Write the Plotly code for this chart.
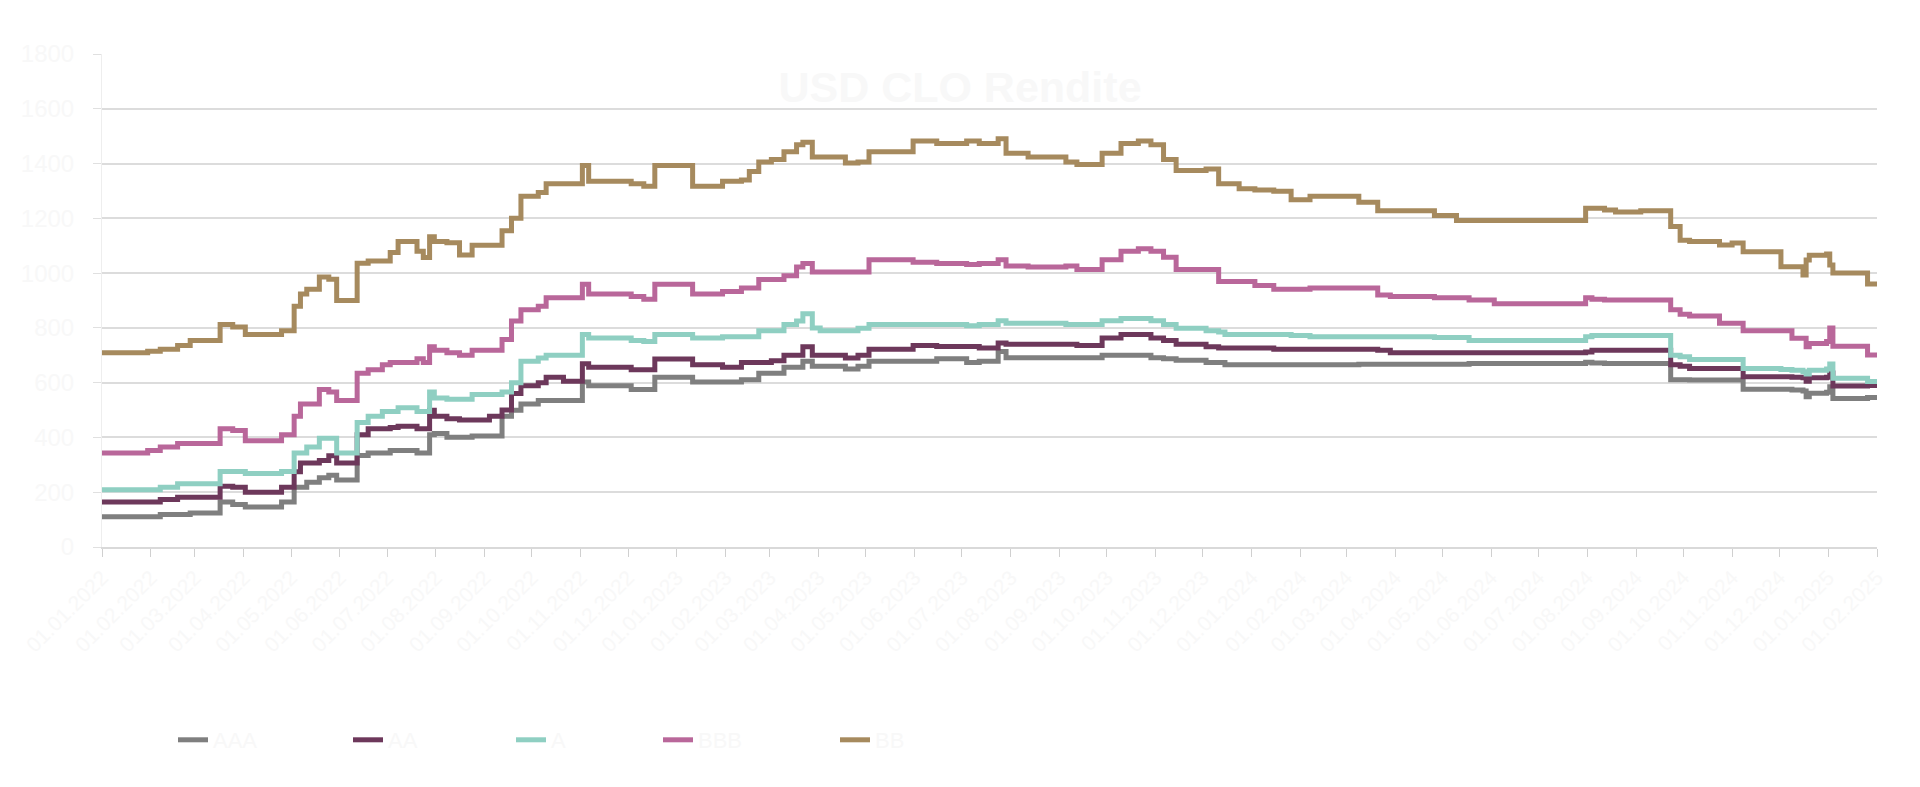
import plotly.graph_objects as go

dates = [
    "2022-01-01", "2022-01-30", "2022-02-07", "2022-02-18", "2022-02-26", "2022-03-17", "2022-03-25", "2022-04-02",
    "2022-04-25", "2022-05-03", "2022-05-07", "2022-05-11", "2022-05-19", "2022-05-25", "2022-05-30", "2022-06-12",
    "2022-06-19", "2022-06-28", "2022-07-03", "2022-07-08", "2022-07-20", "2022-07-24", "2022-07-28", "2022-07-31",
    "2022-08-08", "2022-08-16", "2022-08-24", "2022-09-04", "2022-09-12", "2022-09-18", "2022-09-24", "2022-10-05",
    "2022-10-10", "2022-10-21", "2022-11-02", "2022-11-06", "2022-12-03", "2022-12-11", "2022-12-18", "2023-01-11",
    "2023-01-30", "2023-02-11", "2023-02-16", "2023-02-22", "2023-03-02", "2023-03-10", "2023-03-18", "2023-03-22",
    "2023-03-28", "2023-04-02", "2023-04-18", "2023-04-26", "2023-05-03", "2023-05-31", "2023-06-15", "2023-07-04",
    "2023-07-12", "2023-07-24", "2023-07-29", "2023-08-12", "2023-09-05", "2023-09-12", "2023-09-28", "2023-10-10",
    "2023-10-21", "2023-10-29", "2023-11-06", "2023-11-14", "2023-12-03", "2023-12-11", "2023-12-15", "2023-12-24",
    "2024-01-03", "2024-01-15", "2024-01-26", "2024-02-07", "2024-03-09", "2024-03-21", "2024-03-29", "2024-04-26",
    "2024-05-10", "2024-05-18", "2024-06-03", "2024-07-31", "2024-08-04", "2024-08-12", "2024-08-19", "2024-09-04",
    "2024-09-23", "2024-09-29", "2024-10-05", "2024-10-24", "2024-11-01", "2024-11-08", "2024-12-02", "2024-12-09",
    "2024-12-16", "2024-12-18", "2024-12-20", "2024-12-31", "2025-01-02", "2025-01-04", "2025-01-26", "2025-02-01",
]

aaa = [
    110, 110, 119, 119, 124, 164, 155, 146, 164, 218, 218, 236, 253, 262, 245, 334,
    343, 343, 352, 352, 343, 343, 410, 414, 401, 401, 405, 405, 477, 499, 522, 535,
    535, 535, 602, 589, 575, 575, 620, 602, 602, 611, 611, 634, 634, 656, 656, 678,
    660, 660, 650, 660, 678, 678, 687, 674, 678, 714, 691, 691, 691, 691, 700, 700,
    700, 691, 687, 682, 674, 674, 665, 665, 665, 665, 665, 665, 667, 667, 667, 667,
    667, 670, 670, 675, 672, 670, 670, 670, 611, 611, 610, 610, 610, 576, 576, 573,
    570, 549, 561, 565, 585, 542, 546, 546,
]
aa = [
    164, 164, 173, 182, 182, 222, 218, 200, 218, 275, 307, 307, 316, 333, 307, 410,
    432, 432, 436, 441, 432, 432, 499, 477, 468, 464, 464, 477, 500, 560, 589, 600,
    620, 605, 669, 656, 647, 647, 686, 665, 656, 674, 674, 674, 680, 700, 700, 731,
    700, 700, 690, 700, 722, 736, 732, 732, 727, 745, 740, 740, 740, 736, 763, 776,
    776, 763, 754, 740, 731, 727, 727, 727, 727, 722, 722, 722, 722, 718, 709, 709,
    709, 709, 709, 712, 718, 718, 718, 718, 665, 660, 652, 652, 652, 622, 622, 620,
    618, 605, 618, 620, 635, 588, 590, 590,
]
a = [
    209, 209, 218, 231, 231, 276, 276, 268, 276, 343, 343, 365, 397, 397, 343, 455,
    477, 495, 495, 508, 495, 495, 566, 544, 539, 539, 557, 557, 566, 600, 678, 690,
    700, 700, 776, 763, 754, 750, 776, 763, 768, 768, 768, 790, 790, 812, 825, 852,
    800, 790, 790, 799, 812, 812, 812, 808, 812, 826, 817, 817, 812, 812, 826, 834,
    834, 826, 812, 799, 790, 785, 776, 776, 776, 776, 772, 768, 768, 768, 768, 765,
    765, 754, 754, 768, 772, 772, 772, 772, 700, 695, 685, 685, 685, 652, 648, 645,
    640, 632, 645, 650, 668, 616, 604, 604,
]
bbb = [
    343, 352, 365, 378, 378, 432, 425, 388, 410, 477, 522, 522, 575, 566, 535, 634,
    647, 665, 674, 674, 687, 674, 731, 718, 709, 700, 718, 718, 758, 825, 866, 879,
    910, 910, 959, 924, 915, 905, 959, 924, 933, 946, 946, 977, 977, 990, 1022, 1035,
    1004, 1004, 1004, 1004, 1049, 1040, 1035, 1031, 1035, 1049, 1026, 1022, 1026, 1013, 1049, 1080,
    1089, 1080, 1058, 1013, 1013, 969, 969, 969, 955, 941, 941, 946, 946, 920, 915, 910,
    910, 902, 888, 910, 905, 902, 902, 902, 866, 850, 843, 817, 817, 790, 790, 762,
    762, 731, 743, 750, 800, 733, 701, 701,
]
bb = [
    709, 715, 722, 736, 754, 812, 803, 776, 790, 879, 924, 941, 986, 978, 900, 1036,
    1044, 1044, 1075, 1115, 1080, 1057, 1133, 1115, 1111, 1066, 1102, 1102, 1155, 1200, 1281, 1294,
    1326, 1326, 1393, 1335, 1326, 1317, 1393, 1317, 1335, 1340, 1371, 1406, 1415, 1443, 1469, 1478,
    1424, 1424, 1402, 1406, 1443, 1482, 1473, 1482, 1473, 1491, 1438, 1424, 1406, 1397, 1438, 1473,
    1482, 1469, 1415, 1375, 1380, 1326, 1326, 1308, 1303, 1299, 1268, 1281, 1259, 1228, 1228, 1210,
    1192, 1192, 1192, 1237, 1237, 1230, 1223, 1228, 1170, 1120, 1115, 1103, 1110, 1078, 1023, 1023,
    993, 1048, 1065, 1070, 1030, 1000, 960, 960,
]

series_names = ["AAA", "AA", "A", "BBB", "BB"]
series_values = [aaa, aa, a, bbb, bb]
series_colors = ["#7f7f7f", "#6d385b", "#8fcfc2", "#b9679a", "#a68a5e"]

y_ticks = [0, 200, 400, 600, 800, 1000, 1200, 1400, 1600, 1800]

TEXT = "#f8f8f8"
FONT = "Liberation Sans, Arial, sans-serif"

W, H = 1920, 787
ML, MR, MT, MB = 102, 43, 54, 240
PW = W - ML - MR
PH = H - MT - MB

# legend item left edges (pixels) for each series
legend_px = [173, 348, 511, 658, 835]
legend_ids = ["legend", "legend2", "legend3", "legend4", "legend5"]

fig = go.Figure()
for name, vals, color, lid in zip(series_names, series_values, series_colors, legend_ids):
    fig.add_trace(go.Scatter(
        x=dates, y=vals, name=name, mode="lines", legend=lid,
        line=dict(color=color, width=5, shape="hv"),
    ))

legend_y = (MT + PH - 740) / PH
legend_layout = {}
for lid, px in zip(legend_ids, legend_px):
    legend_layout[lid] = dict(
        orientation="h", x=(px - ML) / PW, xanchor="left", y=legend_y, yanchor="middle",
        font=dict(size=22, color=TEXT, family=FONT), bgcolor="rgba(0,0,0,0)",
    )

fig.update_layout(
    width=W, height=H,
    margin=dict(l=ML, r=MR, t=MT, b=MB),
    paper_bgcolor="white", plot_bgcolor="white",
    font=dict(family=FONT, color=TEXT, size=22),
    title=dict(text="<b>USD CLO Rendite</b>", x=0.5, xref="container", xanchor="center",
               y=1 - 87 / H, yref="container", yanchor="middle",
               font=dict(size=43, color=TEXT, family=FONT)),
    showlegend=True,
    xaxis=dict(
        type="date", range=["2022-01-01", "2025-02-01"],
        tick0="2022-01-01", dtick="M1", tickformat="%d.%m.%Y", tickangle=-45,
        showgrid=False, showline=True, linecolor="#d9d9d9", linewidth=2,
        ticks="outside", ticklen=8, tickcolor="#d0d0d0", tickwidth=1,
        tickfont=dict(size=21, color=TEXT), zeroline=False,
    ),
    yaxis=dict(
        range=[0, 1800], tickvals=y_ticks, showgrid=True, gridcolor="#dcdcdc", gridwidth=2,
        showline=True, linecolor="#eeeeee", linewidth=1,
        ticks="outside", ticklen=8, tickcolor="#e0e0e0", ticklabelstandoff=14,
        tickfont=dict(size=24, color=TEXT), zeroline=False,
    ),
    **legend_layout,
)

fig.write_html(
    "out.html",
    config={"displayModeBar": False},
    post_script="document.body.style.margin='0';document.body.style.overflow='hidden';",
)
